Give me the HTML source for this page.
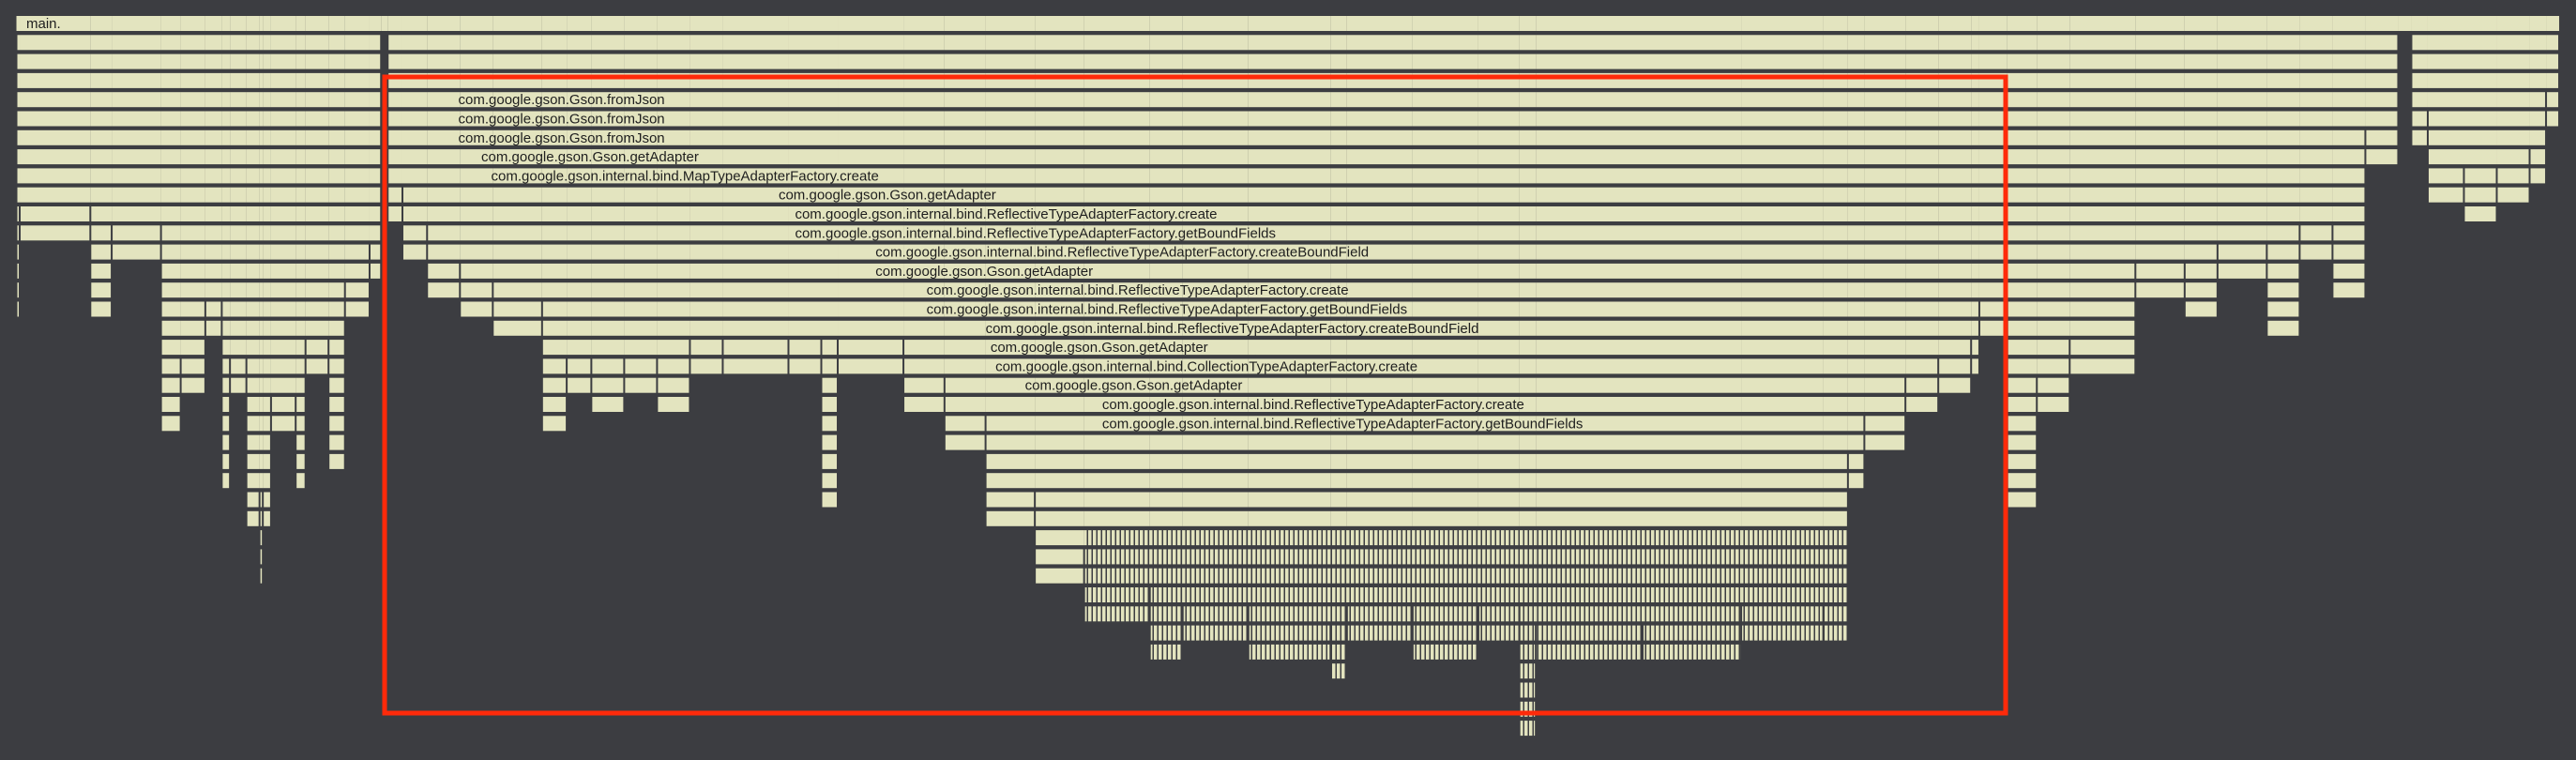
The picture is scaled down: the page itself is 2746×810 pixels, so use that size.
<!DOCTYPE html>
<html><head><meta charset="utf-8">
<style>
html,body{margin:0;padding:0;background:#3c3d41;}
svg{display:block;}
text{font-family:"Liberation Sans",sans-serif;font-size:15px;fill:#1e1e1e;}
</style></head>
<body>
<svg id="fg" width="2746" height="810" viewBox="0 0 2746 810" xmlns="http://www.w3.org/2000/svg">
<defs>
<pattern id="stripes" width="5" height="20" patternUnits="userSpaceOnUse">
<rect x="0" y="0" width="3.5" height="20" fill="#e3e4bf"/>
</pattern>
</defs>
<rect x="0" y="0" width="2746" height="810" fill="#3c3d41"/>
<g id="bars"></g>
<g id="labels"></g>
<rect x="410" y="82" width="1728" height="678" fill="none" stroke="#ff2a0a" stroke-width="5"/>
</svg>
<script>
// column start positions (sample units) and stack depths
const segStarts = [10,12,55,68,98,110,125,135,140,150,158,160,165,180,186,200,210,225,232,236,245,260,280,300,330,345,360,380,400,420,440,480,500,510,550,575,600,630,660,700,720,760,810,820,860,900,925,935,1000,1060,1110,1125,1135,1160,1180,1200,1205,1222,1240,1260,1300,1330,1350,1380,1400,1420,1440,1460,1468,1478,1500,1520,1540,1550];
const segDepths = [16,12,16,13,22,20,17,25,20,27,30,27,22,25,19,24,16,14,1,11,13,15,16,17,22,20,21,20,21,19,19,19,26,19,21,23,27,30,32,34,33,34,35,33,34,33,38,34,34,33,33,25,23,21,20,19,17,26,21,19,15,16,14,17,13,15,8,1,7,10,11,10,9,6];
const segEnd = 1558;
const labelRows = [0,4,5,6,7,8,9,10,11,12,13,14,15,16,17,18,19,20,21];
const labelStarts = [16,279,279,279,293,299,474,484,484,533,533,564,564,600,603,606,624,671,671];
const labelTexts = ["main.","com.google.gson.Gson.fromJson","com.google.gson.Gson.fromJson","com.google.gson.Gson.fromJson","com.google.gson.Gson.getAdapter","com.google.gson.internal.bind.MapTypeAdapterFactory.create","com.google.gson.Gson.getAdapter","com.google.gson.internal.bind.ReflectiveTypeAdapterFactory.create","com.google.gson.internal.bind.ReflectiveTypeAdapterFactory.getBoundFields","com.google.gson.internal.bind.ReflectiveTypeAdapterFactory.createBoundField","com.google.gson.Gson.getAdapter","com.google.gson.internal.bind.ReflectiveTypeAdapterFactory.create","com.google.gson.internal.bind.ReflectiveTypeAdapterFactory.getBoundFields","com.google.gson.internal.bind.ReflectiveTypeAdapterFactory.createBoundField","com.google.gson.Gson.getAdapter","com.google.gson.internal.bind.CollectionTypeAdapterFactory.create","com.google.gson.Gson.getAdapter","com.google.gson.internal.bind.ReflectiveTypeAdapterFactory.create","com.google.gson.internal.bind.ReflectiveTypeAdapterFactory.getBoundFields"];

const NS = "http://www.w3.org/2000/svg";
const xS = v => v * 1.751;
const rowY = r => 17 + r * 20.3;
const ROWH = 16;
const bars = document.getElementById('bars');
const labels = document.getElementById('labels');
const maxDepth = Math.max(...segDepths);

for (let r = 0; r <= maxDepth; r++) {
  for (let i = 0; i < segStarts.length; i++) {
    if (segDepths[i] <= r) continue;
    const s = segStarts[i];
    const e = i + 1 < segStarts.length ? segStarts[i + 1] : segEnd;
    let x0 = xS(s), x1 = xS(e);
    const dL = i > 0 ? segDepths[i - 1] : 0;
    const dR = i + 1 < segStarts.length ? segDepths[i + 1] : 0;
    if (r >= 1 && r >= Math.min(dL, segDepths[i]) - 2) x0 += 1;
    if (r >= 1 && r >= Math.min(dR, segDepths[i]) - 2) x1 -= 1;
    if (x1 - x0 < 1) continue;
    const rect = document.createElementNS(NS, 'rect');
    rect.setAttribute('x', x0);
    rect.setAttribute('y', rowY(r));
    rect.setAttribute('width', x1 - x0);
    rect.setAttribute('height', ROWH);
    const striped = r >= 27 && s >= 640 && s < 1125;
    rect.setAttribute('fill', striped ? 'url(#stripes)' : '#e3e4bf');
    
    
    bars.appendChild(rect);
  }
}

for (let i = 0; i < labelTexts.length; i++) {
  const t = document.createElementNS(NS, 'text');
  t.setAttribute('x', xS(labelStarts[i]));
  t.setAttribute('y', rowY(labelRows[i]) + 13);
  t.textContent = labelTexts[i];
  
  
  labels.appendChild(t);
}
</script>
</body></html>
